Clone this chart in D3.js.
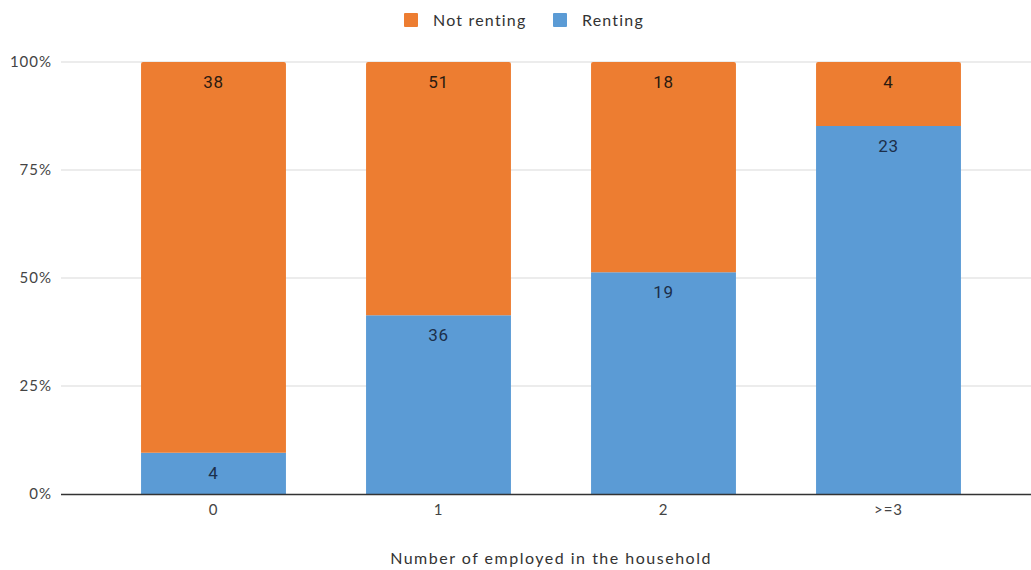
<!DOCTYPE html>
<html>
<head>
<meta charset="utf-8">
<script src="https://cdn.jsdelivr.net/npm/d3@7"></script>
<style>
  html, body { margin: 0; padding: 0; background: #fff; }
  svg { display: block; }
</style>
</head>
<body>
<svg id="chart" width="1031" height="570"></svg>
<script>
// Household counts by number of employed members
const categories = ["0", "1", "2", ">=3"];
const seriesNames = ["Renting", "Not renting"];
const renting = [4, 36, 19, 23];
const notRenting = [38, 51, 18, 4];
const yTicks = [0, 0.25, 0.5, 0.75, 1];

const colors = { "Renting": "#5B9BD5", "Not renting": "#ED7D31" };
const labelColors = { "Renting": "#1c2f4a", "Not renting": "#2a1a10" };
const axisFont = "Lato, 'Open Sans', sans-serif";
const labelFont = "Roboto, 'Noto Sans', sans-serif";

const svg = d3.select("#chart");

const rows = categories.map((c, i) => ({
  category: c,
  "Renting": renting[i],
  "Not renting": notRenting[i]
}));

const stack = d3.stack().keys(seriesNames).offset(d3.stackOffsetExpand);
const layers = stack(rows);

const x = d3.scaleBand()
  .domain(categories)
  .range([101, 1001])
  .paddingInner(0.356)
  .paddingOuter(0.178);

const y = d3.scaleLinear().domain([0, 1]).range([494, 62]);

// horizontal gridlines
svg.append("g")
  .selectAll("line")
  .data(yTicks.filter(t => t > 0))
  .join("line")
  .attr("x1", 61).attr("x2", 1031)
  .attr("y1", d => y(d)).attr("y2", d => y(d))
  .attr("stroke", "#d9d9d9").attr("stroke-width", 1);

// y tick labels
svg.append("g")
  .selectAll("text")
  .data(yTicks)
  .join("text")
  .attr("x", 52)
  .attr("y", d => y(d))
  .attr("dy", "0.35em")
  .attr("text-anchor", "end")
  .attr("font-family", axisFont)
  .attr("font-size", 15)
  .attr("letter-spacing", 1)
  .attr("fill", "#444")
  .text(d => d3.format(".0%")(d));

// stacked bars
const layerG = svg.append("g")
  .selectAll("g")
  .data(layers)
  .join("g")
  .attr("fill", d => colors[d.key]);

layerG.selectAll("path")
  .data(d => d.map(s => ({ key: d.key, s })))
  .join("path")
  .attr("d", d => {
    const x0 = x(d.s.data.category), w = x.bandwidth();
    const top = y(d.s[1]), bot = y(d.s[0]);
    const r = d.s[1] >= 1 ? 2 : 0;
    return `M${x0},${bot}V${top + r}Q${x0},${top} ${x0 + r},${top}` +
           `H${x0 + w - r}Q${x0 + w},${top} ${x0 + w},${top + r}V${bot}Z`;
  });

// value labels near the top of each segment
layerG.selectAll("text")
  .data(d => d.map(s => ({ key: d.key, s })))
  .join("text")
  .attr("x", d => x(d.s.data.category) + x.bandwidth() / 2)
  .attr("y", d => y(d.s[1]) + 26)
  .attr("text-anchor", "middle")
  .attr("font-family", labelFont)
  .attr("font-size", 17)
  .attr("letter-spacing", 0.8)
  .attr("fill", d => labelColors[d.key])
  .text(d => d.s.data[d.key]);

// baseline
svg.append("line")
  .attr("x1", 61).attr("x2", 1031)
  .attr("y1", y(0) + 0.5).attr("y2", y(0) + 0.5)
  .attr("stroke", "#333").attr("stroke-width", 1.3);

// x category labels
svg.append("g")
  .selectAll("text")
  .data(categories)
  .join("text")
  .attr("x", d => x(d) + x.bandwidth() / 2)
  .attr("y", 515)
  .attr("text-anchor", "middle")
  .attr("font-family", axisFont)
  .attr("font-size", 15)
  .attr("letter-spacing", 1)
  .attr("fill", "#444")
  .text(d => d);

// x axis title
svg.append("text")
  .attr("x", 551).attr("y", 564)
  .attr("text-anchor", "middle")
  .attr("font-family", axisFont)
  .attr("font-size", 16)
  .attr("fill", "#333")
  .attr("letter-spacing", 1.5)
  .text("Number of employed in the household");

// legend
const legendItems = [
  { name: "Not renting", x: 404 },
  { name: "Renting", x: 553 }
];
const lg = svg.append("g")
  .selectAll("g")
  .data(legendItems)
  .join("g")
  .attr("transform", d => `translate(${d.x},13)`);
lg.append("rect")
  .attr("width", 14).attr("height", 14).attr("rx", 1)
  .attr("fill", d => colors[d.name]);
lg.append("text")
  .attr("x", 29).attr("y", 7)
  .attr("dy", "0.35em")
  .attr("font-family", axisFont)
  .attr("font-size", 16)
  .attr("fill", "#333")
  .attr("letter-spacing", 1.2)
  .text(d => d.name);
</script>
</body>
</html>
